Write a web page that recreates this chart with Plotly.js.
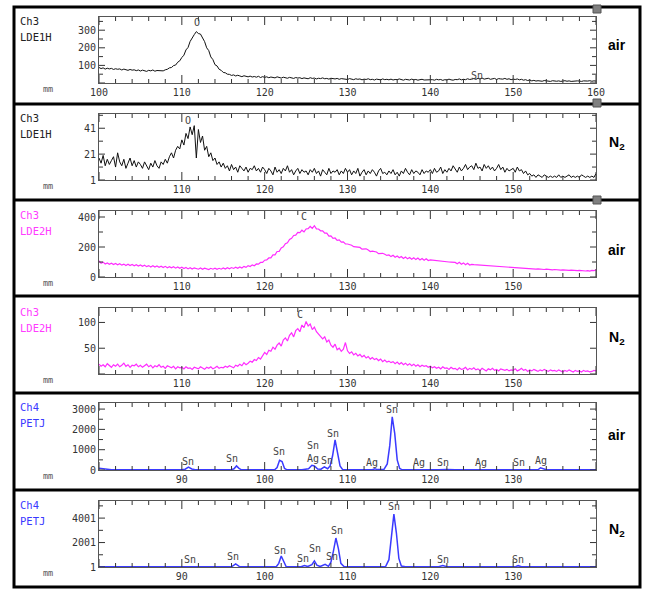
<!DOCTYPE html>
<html>
<head>
<meta charset="utf-8">
<script src="https://cdn.plot.ly/plotly-3.0.1.min.js"></script>
<style>html,body{margin:0;padding:0;background:#fff;}#chart{width:649px;height:589px;}</style>
</head>
<body>
<div id="chart"></div>
<script>
// ---------- DATA ----------
// Ch3 spectra sampled from 100 mm, every 0.25 mm
const ch3Start = 100;
const ch3Step = 0.25;

// Panel 1: Ch3 LDE1H, air
const lde1hAir = [
  88,82,86,79,84,80,83,77,81,78,80,74,79,76,72,77,73,75,70,74,
  68,73,71,66,72,69,74,67,71,70,73,69,75,78,86,88,99,102,118,126,
  145,158,188,202,236,252,275,292,281,278,255,235,200,184,148,133,104,97,78,72,
  60,58,50,49,43,46,40,44,40,36,41,38,35,39,34,37,33,38,31,36,
  32,35,30,34,33,29,35,31,28,33,30,27,32,29,26,31,28,30,25,29,
  27,24,30,26,28,23,27,25,29,24,26,22,27,25,23,26,21,25,23,24,
  20,25,22,19,24,21,23,18,22,20,24,19,21,17,22,20,18,23,19,21,
  18,22,17,20,19,23,18,16,21,19,17,22,18,20,16,19,21,17,18,20,
  17,19,16,21,18,20,15,19,17,22,18,16,20,19,23,18,21,19,24,20,
  22,25,21,26,23,28,22,25,27,21,24,26,20,25,23,22,26,21,24,19,
  22,20,23,18,21,16,19,14,17,12,15,11,13,12,10,14,11,12,9,13,
  11,10,12,9,11,13,10,12,9,11,10,12,11,9,12,10,11,13,10,12,
  11
];

// Panel 2: Ch3 LDE1H, N2
const lde1hN2 = [
  18,14,20,12,17,13,16,19,11,22,15,12,17,10,14,18,12,16,11,15,
  13,10,15,12,9,14,11,16,12,10,15,13,17,14,19,22,18,24,27,25,
  32,28,37,33,42,36,43,18,40,30,35,24,27,19,22,16,18,13,15,11,
  14,10,12,8,13,9,11,7,12,10,8,11,7,10,9,12,8,10,7,11,
  9,6,10,8,5,11,7,9,6,10,8,12,7,9,5,8,10,6,9,7,
  8,5,9,7,10,6,8,4,9,7,5,10,6,8,7,9,5,8,6,10,
  7,9,5,8,6,10,4,7,9,5,8,6,9,7,4,8,10,6,7,5,
  8,6,9,5,7,4,8,6,10,7,5,9,6,8,7,5,9,6,8,7,
  9,6,10,7,8,11,6,9,7,10,8,12,9,7,11,8,10,13,9,11,
  12,9,14,10,11,8,13,10,12,9,11,8,10,13,9,11,7,10,8,9,
  10,7,11,8,9,6,8,5,6,4,5,3,5,4,3,5,4,3,4,3,
  4,3,5,3,4,3,4,5,3,4,3,4,3,5,4,3,4,3,4,3,
  6
];

// Panel 3: Ch3 LDE2H, air
const lde2hAir = [
  108,92,99,87,94,85,92,83,90,81,88,79,86,77,85,76,83,75,82,73,
  80,71,78,69,76,67,75,66,73,65,72,63,71,62,69,61,68,59,67,58,
  65,56,63,54,62,53,61,55,52,60,51,59,53,50,58,52,59,51,58,52,
  60,53,62,55,63,57,65,58,67,60,71,64,76,70,81,75,87,86,97,98,
  112,114,127,128,147,148,170,171,194,201,222,228,250,258,277,279,297,296,312,301,
  320,322,337,324,342,321,320,308,307,292,292,272,274,258,260,244,247,232,234,221,
  220,218,212,202,202,199,197,186,188,188,180,170,172,172,167,156,158,158,152,144,
  147,136,145,132,140,128,137,124,133,121,130,118,128,116,126,114,123,112,121,110,
  114,112,110,107,108,105,105,102,102,100,99,96,97,88,98,85,94,82,91,80,
  84,82,81,79,79,76,77,74,75,72,73,70,72,69,70,67,68,65,67,64,
  65,62,62,60,60,58,59,56,57,54,56,53,54,52,53,50,52,49,51,48,
  50,47,49,46,48,45,47,44,46,43,45,42,44,41,43,40,42,39,44,42,
  48
];

// Panel 4: Ch3 LDE2H, N2
const lde2hN2 = [
  19,15,18,14,20,16,13,18,15,19,14,17,21,15,18,13,17,16,19,14,
  17,13,16,19,14,17,12,16,14,18,13,15,11,16,14,12,15,10,14,12,
  13,10,14,11,12,9,13,11,10,14,12,9,13,11,14,10,12,15,11,13,
  12,15,13,16,14,12,17,15,19,16,22,18,21,25,23,28,26,32,29,35,
  42,38,46,44,52,48,56,60,54,66,70,64,75,80,72,84,88,82,95,90,
  102,93,97,86,91,82,78,74,68,72,62,66,56,52,58,47,50,44,48,61,
  45,40,43,37,40,35,38,33,36,31,34,29,32,28,30,26,29,24,27,23,
  25,22,24,20,23,19,22,18,21,17,20,16,19,15,18,14,17,15,16,13,
  15,12,14,11,13,10,14,11,12,9,13,10,11,8,12,9,10,13,8,11,
  9,12,8,10,7,11,9,6,10,8,11,7,9,6,10,8,7,9,6,8,
  7,10,6,8,11,7,9,5,8,6,9,7,5,8,6,9,7,5,8,6,
  7,5,8,6,4,7,5,8,6,4,7,5,6,4,7,5,6,4,5,7,
  6
];

// Panel 5: Ch4 PETJ, air
const petjAirX = [80,80.4,80.8,81.5,90,90.4,90.8,91.2,91.6,96,96.3,96.6,96.9,97.2,
  101.2,101.5,101.8,102.1,102.4,102.7,104.5,105.3,105.7,106.0,106.4,106.8,107.2,107.6,
  107.9,108.2,108.5,108.8,109.1,109.4,113,113.3,113.6,114.4,114.8,115.1,115.4,115.7,
  116.0,116.3,116.6,121,121.5,122,123,133,133.3,133.6,134,140];
const petjAirY = [90,70,30,10,10,40,140,50,10,10,60,200,80,10,
  10,120,480,420,80,10,10,60,230,200,50,40,150,60,
  200,700,1480,900,200,30,10,60,20,30,300,1200,2620,1800,
  500,80,10,10,30,20,10,10,110,60,10,10];

// Panel 6: Ch4 PETJ, N2
const petjN2X = [80,90,90.8,91.2,96,96.5,97,101.4,101.7,102,102.3,102.6,104.4,104.8,
  105.2,105.7,106,106.3,106.7,107.3,107.7,108.0,108.3,108.6,108.9,109.2,109.6,114.6,
  115.0,115.3,115.6,115.9,116.2,116.5,117,121,121.5,122,130.3,130.6,131,140];
const petjN2Y = [20,20,60,20,20,250,20,20,300,900,500,20,20,120,
  40,200,500,150,40,220,60,400,1300,2370,1500,300,20,40,
  600,2500,4330,2800,700,80,20,20,120,20,20,110,20,20];

// Peak labels
const p1Lab = ["O","Sn"], p1LabX = [111.8,145.6], p1LabY = [345,45];
const p2Lab = ["O"], p2LabX = [110.7], p2LabY = [47];
const p3Lab = ["C"], p3LabX = [124.7], p3LabY = [400];
const p4Lab = ["C"], p4LabX = [124.3], p4LabY = [115];
const p5Lab = ["Sn","Sn","Sn","Sn","Ag","Sn","Sn","Ag","Sn","Ag","Sn","Ag","Sn","Ag"];
const p5LabX = [90.7,96.1,101.7,105.8,105.8,107.5,108.3,113.0,115.4,118.6,121.5,126.1,130.7,133.3];
const p5LabY = [440,590,890,1230,590,490,1820,390,3000,390,390,390,390,490];
const p6Lab = ["Sn","Sn","Sn","Sn","Sn","Sn","Sn","Sn","Sn","Sn"];
const p6LabX = [91.0,96.2,101.9,104.6,106.1,108.1,108.7,115.6,121.5,130.6];
const p6LabY = [650,900,1390,735,1550,900,3020,4980,650,650];

// Axis ranges and tick labels
const xRangeCh3 = [100,160], xRangeCh4 = [80,140];
const x1Ticks = [100,110,120,130,140,150,160];
const xCh3Ticks = [110,120,130,140,150];
const xCh4Ticks = [90,100,110,120,130];
const y1Range = [0,375], y1Ticks = [100,200,300];
const y2Range = [1,52], y2Ticks = [1,21,41];
const y3Range = [0,440], y3Ticks = [0,200,400];
const y4Range = [0,128], y4Ticks = [50,100];
const y5Range = [0,3300], y5Ticks = [0,1000,2000,3000];
const y6Range = [1,5400], y6Ticks = [1,2001,4001];

const chanNames = ["Ch3","Ch3","Ch3","Ch3","Ch4","Ch4"];
const detNames = ["LDE1H","LDE1H","LDE2H","LDE2H","PETJ","PETJ"];
const atmos = ["air","N<sub>2</sub>","air","N<sub>2</sub>","air","N<sub>2</sub>"];

// ---------- LAYOUT ----------
const W = 649, H = 589;
const px = v => v / W;
const py = v => 1 - v / H;
const mono = "DejaVu Sans Mono, monospace";
const plotLeft = 99, plotRight = 596;
const panelPx = [[17,83],[114,180],[211,277],[308,374],[403,470],[501,567]];
const colors = ["#111111","#111111","#ff2cff","#ff2cff","#3a3aff","#3a3aff"];
const widths = [1,1,1.2,1.2,1.5,1.5];
const labColors = ["#222222","#222222","#ff3cff","#ff3cff","#3a3aff","#3a3aff"];
const atmosY = [45,143,250,338,435,530];

const xr = [xRangeCh3,xRangeCh3,xRangeCh3,xRangeCh3,xRangeCh4,xRangeCh4];
const xt = [x1Ticks,xCh3Ticks,xCh3Ticks,xCh3Ticks,xCh4Ticks,xCh4Ticks];
const yr = [y1Range,y2Range,y3Range,y4Range,y5Range,y6Range];
const yt = [y1Ticks,y2Ticks,y3Ticks,y4Ticks,y5Ticks,y6Ticks];
const yMinor = [{tick0:0,dtick:50},{tick0:1,dtick:10},{tick0:0,dtick:100},{tick0:0,dtick:50},{tick0:0,dtick:500},{tick0:1,dtick:1000}];
const yMajor = [{tick0:0,dtick:100},{tick0:1,dtick:20},{tick0:0,dtick:200},{tick0:0,dtick:50},{tick0:0,dtick:1000},{tick0:1,dtick:2000}];

const traces = [];
const ch3Series = [lde1hAir, lde1hN2, lde2hAir, lde2hN2];
ch3Series.forEach((s,i) => {
  traces.push({type:'scatter', mode:'lines', x0:ch3Start, dx:ch3Step, y:s,
    xaxis: i===0?'x':'x'+(i+1), yaxis: i===0?'y':'y'+(i+1),
    line:{color:colors[i], width:widths[i]}, hoverinfo:'skip'});
});
traces.push({type:'scatter', mode:'lines', x:petjAirX, y:petjAirY, xaxis:'x5', yaxis:'y5',
  line:{color:colors[4], width:widths[4]}, hoverinfo:'skip'});
traces.push({type:'scatter', mode:'lines', x:petjN2X, y:petjN2Y, xaxis:'x6', yaxis:'y6',
  line:{color:colors[5], width:widths[5]}, hoverinfo:'skip'});

const layout = {
  width:W, height:H, margin:{l:0,r:0,t:0,b:0},
  paper_bgcolor:'#ffffff', plot_bgcolor:'#ffffff', showlegend:false,
  annotations:[], shapes:[]
};

for (let i=0;i<6;i++){
  const n = i===0 ? '' : String(i+1);
  const [top,bot] = panelPx[i];
  layout['xaxis'+n] = {
    domain:[px(plotLeft),px(plotRight)], range:xr[i], anchor:'y'+n,
    tickmode:'array', tickvals:xt[i], ticktext:xt[i].map(String), ticks:'',
    showline:true, linecolor:'#555', linewidth:1, mirror:true,
    showgrid:false, zeroline:false,
    tickfont:{family:mono, size:10, color:'#333'}
  };
  layout['yaxis'+n] = {
    domain:[py(bot),py(top)], range:yr[i], anchor:'x'+n,
    tickmode:'array', tickvals:yt[i], ticktext:yt[i].map(String), ticks:'',
    showline:true, linecolor:'#555', linewidth:1, mirror:true,
    showgrid:false, zeroline:false,
    tickfont:{family:mono, size:10, color:'#333'}
  };

  // inward tick marks on all four sides, drawn as short line segments in axis units
  const yPerPx = (yr[i][1] - yr[i][0]) / (bot - top);
  const xPerPx = (xr[i][1] - xr[i][0]) / (plotRight - plotLeft);
  const tx = [], ty = [];
  for (let v = xr[i][0]; v <= xr[i][1] + 1e-9; v += 2) {
    const len = ((Math.round(v) % 10 === 0) ? 8 : 4) * yPerPx;
    tx.push(v, v, null, v, v, null);
    ty.push(yr[i][0], yr[i][0] + len, null, yr[i][1], yr[i][1] - len, null);
  }
  const ys = yMinor[i], ym = yMajor[i];
  for (let v = ys.tick0; v <= yr[i][1] + 1e-9; v += ys.dtick) {
    if (v < yr[i][0]) continue;
    const q = (v - ym.tick0) / ym.dtick;
    const len = (Math.abs(q - Math.round(q)) < 1e-6 ? 6 : 4) * xPerPx;
    tx.push(xr[i][0], xr[i][0] + len, null, xr[i][1], xr[i][1] - len, null);
    ty.push(v, v, null, v, v, null);
  }
  traces.push({type:'scatter', mode:'lines', x:tx, y:ty, xaxis:'x'+n, yaxis:'y'+n,
    connectgaps:false, line:{color:'#333', width:1}, hoverinfo:'skip'});

  // left labels
  layout.annotations.push({xref:'paper', yref:'paper', x:px(18), y:py(top+4), xanchor:'left', yanchor:'middle',
    text:chanNames[i], showarrow:false, font:{family:mono, size:10.5, color:labColors[i]}});
  layout.annotations.push({xref:'paper', yref:'paper', x:px(18), y:py(top+20), xanchor:'left', yanchor:'middle',
    text:detNames[i], showarrow:false, font:{family:mono, size:10.5, color:labColors[i]}});
  layout.annotations.push({xref:'paper', yref:'paper', x:px(48), y:py(bot+6), xanchor:'center', yanchor:'middle',
    text:'mm', showarrow:false, font:{family:mono, size:8.5, color:'#555'}});
  layout.annotations.push({xref:'paper', yref:'paper', x:px(617), y:py(atmosY[i]), xanchor:'center', yanchor:'middle',
    text:atmos[i], showarrow:false, font:{family:'Liberation Sans, Arial, sans-serif', size:14, color:'#000', weight:'bold'}});
}

const labSets = [[p1Lab,p1LabX,p1LabY],[p2Lab,p2LabX,p2LabY],[p3Lab,p3LabX,p3LabY],[p4Lab,p4LabX,p4LabY],[p5Lab,p5LabX,p5LabY],[p6Lab,p6LabX,p6LabY]];
labSets.forEach((set,i) => {
  const n = i===0 ? '' : String(i+1);
  set[0].forEach((t,k) => {
    layout.annotations.push({xref:'x'+n, yref:'y'+n, x:set[1][k], y:set[2][k], text:t, showarrow:false,
      xanchor:'center', yanchor:'middle', font:{family:mono, size:10, color:'#444'}});
  });
});

// frame
layout.shapes.push({type:'rect', xref:'paper', yref:'paper', x0:px(14), x1:px(640), y0:py(587), y1:py(7),
  line:{color:'#000', width:3}, fillcolor:'rgba(0,0,0,0)', layer:'above'});
[104,200,296,393,490].forEach(y => {
  layout.shapes.push({type:'line', xref:'paper', yref:'paper', x0:px(14), x1:px(640), y0:py(y), y1:py(y),
    line:{color:'#000', width:3}, layer:'above'});
});
[9,103,200].forEach(y => {
  layout.shapes.push({type:'rect', xref:'paper', yref:'paper', x0:px(593), x1:px(601), y0:py(y+4), y1:py(y-4),
    line:{color:'#555', width:1}, fillcolor:'#808080', layer:'above'});
});

Plotly.newPlot('chart', traces, layout, {staticPlot:true});
</script>
</body>
</html>
